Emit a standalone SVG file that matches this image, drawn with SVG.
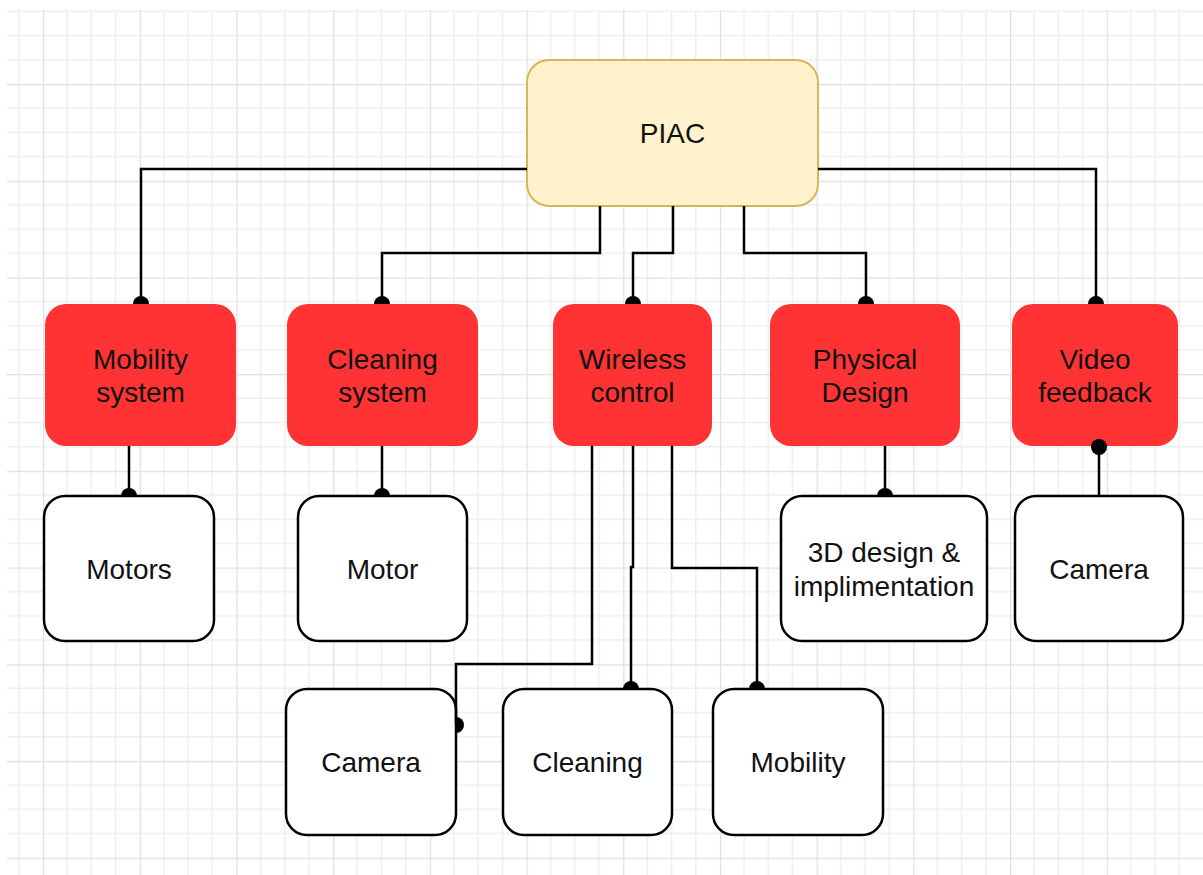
<svg xmlns="http://www.w3.org/2000/svg" width="1203" height="875" viewBox="0 0 1203 875">
  <style>
    .lbl { font-family: "Liberation Sans", Arial, Helvetica, sans-serif; font-size: 28px; fill: #111; text-anchor: middle; }
    .root { fill: #fff2cc; stroke: #d6b656; stroke-width: 2; }
    .sub { fill: #ff3333; stroke: none; }
    .leaf { fill: #ffffff; stroke: #000; stroke-width: 2.5; }
    .edge { fill: none; stroke: #000; stroke-width: 2.5; }
  </style>
  <defs>
    <pattern id="grid" patternUnits="userSpaceOnUse" x="43" y="84" width="96.7" height="96.7">
      <path d="M24.2,0 V96.7 M48.35,0 V96.7 M72.5,0 V96.7 M0,24.2 H96.7 M0,48.35 H96.7 M0,72.5 H96.7" stroke="#efefef" stroke-width="1.5" fill="none"/>
      <path d="M0.5,0 V96.7 M0,0.5 H96.7" stroke="#e0e0e0" stroke-width="1.5" fill="none"/>
    </pattern>
    <!-- half dot sitting on top of the target edge -->
    <marker id="dot-up" markerUnits="userSpaceOnUse" viewBox="-10 -10 20 20" markerWidth="20" markerHeight="20" refX="0" refY="0" orient="0" overflow="visible">
      <path d="M-8,0 A8,8 0 0 1 8,0 Z" fill="#000"/>
    </marker>
    <!-- half dot bulging to the right of the target edge -->
    <marker id="dot-right" markerUnits="userSpaceOnUse" viewBox="-10 -10 20 20" markerWidth="20" markerHeight="20" refX="0" refY="0" orient="0" overflow="visible">
      <path d="M0,-8 A8,8 0 0 1 0,8 Z" fill="#000"/>
    </marker>
    <!-- full round end -->
    <marker id="dot-full" markerUnits="userSpaceOnUse" viewBox="-10 -10 20 20" markerWidth="20" markerHeight="20" refX="0" refY="0" orient="0" overflow="visible">
      <circle cx="0" cy="0" r="8" fill="#000"/>
    </marker>
  </defs>

  <!-- canvas -->
  <rect width="1203" height="875" fill="#ffffff"/>
  <rect x="7" y="10" width="1196" height="865" fill="url(#grid)"/>

  <!-- top level -->
  <g id="piac">
    <rect class="root" x="527" y="60" width="291" height="146" rx="22"/>
    <text class="lbl" x="672.5" y="143">PIAC</text>
  </g>

  <!-- subsystems -->
  <g id="mobility-system">
    <rect class="sub" x="45" y="304" width="191" height="142" rx="21"/>
    <text class="lbl" x="140.5" y="369">Mobility</text>
    <text class="lbl" x="140.5" y="402">system</text>
  </g>
  <g id="cleaning-system">
    <rect class="sub" x="287" y="304" width="191" height="142" rx="21"/>
    <text class="lbl" x="382.5" y="369">Cleaning</text>
    <text class="lbl" x="382.5" y="402">system</text>
  </g>
  <g id="wireless-control">
    <rect class="sub" x="553" y="304" width="159" height="142" rx="21"/>
    <text class="lbl" x="632.5" y="369">Wireless</text>
    <text class="lbl" x="632.5" y="402">control</text>
  </g>
  <g id="physical-design">
    <rect class="sub" x="770" y="304" width="190" height="142" rx="21"/>
    <text class="lbl" x="865" y="369">Physical</text>
    <text class="lbl" x="865" y="402">Design</text>
  </g>
  <g id="video-feedback">
    <rect class="sub" x="1012" y="304" width="166" height="142" rx="21"/>
    <text class="lbl" x="1095" y="369">Video</text>
    <text class="lbl" x="1095" y="402">feedback</text>
  </g>

  <!-- components -->
  <g id="motors">
    <rect class="leaf" x="44" y="496" width="170" height="145" rx="21"/>
    <text class="lbl" x="129" y="579">Motors</text>
  </g>
  <g id="motor">
    <rect class="leaf" x="298" y="496" width="169" height="145" rx="21"/>
    <text class="lbl" x="382.5" y="579">Motor</text>
  </g>
  <g id="design-3d">
    <rect class="leaf" x="781" y="496" width="206" height="145" rx="21"/>
    <text class="lbl" x="884" y="562">3D design &amp;</text>
    <text class="lbl" x="884" y="596">implimentation</text>
  </g>
  <g id="camera-video">
    <rect class="leaf" x="1015" y="496" width="168" height="145" rx="21"/>
    <text class="lbl" x="1099" y="579">Camera</text>
  </g>
  <g id="camera-wireless">
    <rect class="leaf" x="286" y="689" width="170" height="146" rx="21"/>
    <text class="lbl" x="371" y="772">Camera</text>
  </g>
  <g id="cleaning-wireless">
    <rect class="leaf" x="503" y="689" width="169" height="146" rx="21"/>
    <text class="lbl" x="587.5" y="772">Cleaning</text>
  </g>
  <g id="mobility-wireless">
    <rect class="leaf" x="713" y="689" width="170" height="146" rx="21"/>
    <text class="lbl" x="798" y="772">Mobility</text>
  </g>

  <!-- connectors -->
  <g id="connectors">
    <path class="edge" d="M527,169 H141 V304" marker-end="url(#dot-up)"/>
    <path class="edge" d="M600,206 V253 H382 V304" marker-end="url(#dot-up)"/>
    <path class="edge" d="M673,206 V253 H633 V304" marker-end="url(#dot-up)"/>
    <path class="edge" d="M744,206 V253 H866 V304" marker-end="url(#dot-up)"/>
    <path class="edge" d="M818,169 H1096 V304" marker-end="url(#dot-up)"/>
    <path class="edge" d="M129,446 V496" marker-end="url(#dot-up)"/>
    <path class="edge" d="M382,446 V496" marker-end="url(#dot-up)"/>
    <path class="edge" d="M885,446 V496" marker-end="url(#dot-up)"/>
    <path class="edge" d="M1099,496 V447" marker-end="url(#dot-full)"/>
    <path class="edge" d="M592,446 V664 H456 V725" marker-end="url(#dot-right)"/>
    <path class="edge" d="M633,446 V567 H631 V689" marker-end="url(#dot-up)"/>
    <path class="edge" d="M672,446 V568 H757 V689" marker-end="url(#dot-up)"/>
  </g>
</svg>
